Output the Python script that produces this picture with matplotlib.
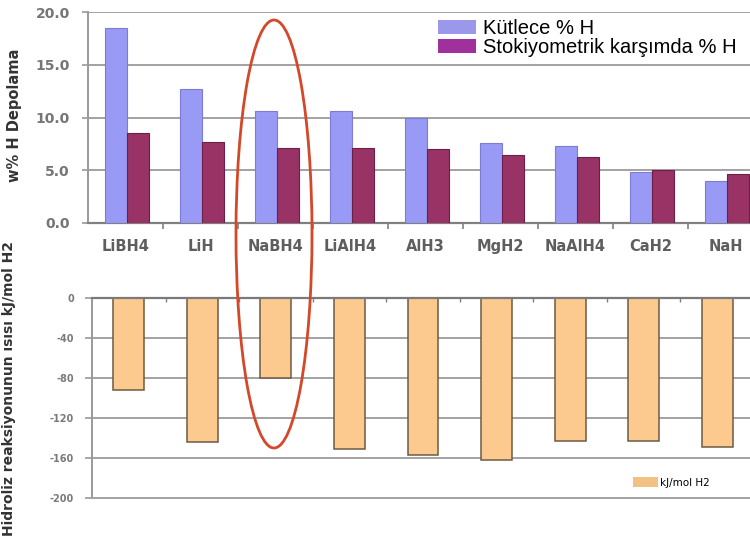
import numpy as np
import matplotlib
matplotlib.use("Agg")
import matplotlib.pyplot as plt
from matplotlib.patches import Patch, Ellipse
from matplotlib.ticker import FixedLocator, FormatStrFormatter

plt.rcParams["axes.unicode_minus"] = False

# Hydrides compared
compounds = ["LiBH4", "LiH", "NaBH4", "LiAlH4", "AlH3", "MgH2", "NaAlH4", "CaH2", "NaH"]

# Hydrogen storage, wt% H
kutlece_h = [18.5, 12.7, 10.6, 10.6, 10.0, 7.6, 7.3, 4.8, 4.0]
stokiyometrik_h = [8.5, 7.7, 7.1, 7.1, 7.0, 6.4, 6.3, 5.0, 4.6]

# Heat of hydrolysis, kJ/mol H2
hidroliz_isisi = [-92, -144, -80, -151, -157, -162, -143, -143, -149]

top_yticks = [0, 5, 10, 15, 20]
bottom_yticks = [-200, -160, -120, -80, -40, 0]

W, H = 750, 544
fig = plt.figure(figsize=(W / 100, H / 100), dpi=100)
fig.patch.set_facecolor("white")


def rect(left, top, right, bottom):
    return [left / W, 1 - bottom / H, (right - left) / W, (bottom - top) / H]


grid_c = "#a2a2a2"
tick_font = dict(family="DejaVu Sans", weight="bold")

# ---- upper panel: storage capacity ----
ax1 = fig.add_axes(rect(88, 12, 763, 223))
x = np.arange(len(compounds))
bw = 0.29
ax1.bar(x - bw / 2 + 0.02, kutlece_h, bw, color="#9999f6", edgecolor="#7c7cd8",
        linewidth=0.8, zorder=3)
ax1.bar(x + bw / 2 + 0.02, stokiyometrik_h, bw, color="#993366", edgecolor="#6e1f48",
        linewidth=0.8, zorder=3)
ax1.set_xlim(-0.5, len(compounds) - 0.5)
ax1.set_ylim(0, 20)
ax1.set_yticks(top_yticks)
ax1.yaxis.set_major_formatter(FormatStrFormatter("%.1f"))
ax1.yaxis.grid(True, color=grid_c, linewidth=1.4, zorder=0)
ax1.set_axisbelow(True)
for s in ("top", "right"):
    ax1.spines[s].set_visible(False)
ax1.spines["left"].set_color("#9a9a9a")
ax1.spines["left"].set_linewidth(1.4)
ax1.spines["bottom"].set_color("#808080")
ax1.spines["bottom"].set_linewidth(1.6)
ax1.set_xticks(x)
ax1.set_xticklabels(compounds, fontsize=10.5, color="#5e5e5e", **tick_font)
ax1.xaxis.set_minor_locator(FixedLocator(x[:-1] + 0.5))
ax1.tick_params(axis="x", which="major", length=0, pad=11.5)
ax1.tick_params(axis="x", which="minor", length=4, width=1.2, color="#808080", direction="out")
ax1.tick_params(axis="y", length=4, width=1.2, color="#9a9a9a", pad=9)
for lab in ax1.get_yticklabels():
    lab.set_fontsize(10)
    lab.set_color("#767676")
    lab.set_fontfamily("DejaVu Sans")
    lab.set_fontweight("bold")

fig.text(15 / W, 1 - 115 / H, "w% H Depolama", rotation=90, ha="center", va="center",
         fontsize=10.5, color="#333333", **tick_font)

fig.legend(handles=[Patch(facecolor="#9b98ec"), Patch(facecolor="#a0309c")],
           labels=["Kütlece % H", "Stokiyometrik karşımda % H"],
           loc="upper left", bbox_to_anchor=(438 / W, 1 - 19 / H),
           frameon=False, prop=dict(family="Liberation Sans", size=14.5),
           handlelength=1.9, handleheight=0.7, handletextpad=0.35,
           labelspacing=0.0, borderpad=0, borderaxespad=0)

# ---- lower panel: hydrolysis heat ----
ax2 = fig.add_axes(rect(92, 298, 754, 498))
ax2.bar(x, hidroliz_isisi, 0.42, color="#fcc98f", edgecolor="#6e5a44", linewidth=1.1, zorder=3)
ax2.set_xlim(-0.5, len(compounds) - 0.5)
ax2.set_ylim(-200, 0)
ax2.set_yticks(bottom_yticks)
ax2.yaxis.grid(True, color=grid_c, linewidth=1.4, zorder=0)
ax2.set_axisbelow(True)
ax2.spines["right"].set_visible(False)
ax2.spines["top"].set_color("#7a7a7a")
ax2.spines["top"].set_linewidth(1.6)
ax2.spines["top"].set_zorder(4)
ax2.spines["bottom"].set_color(grid_c)
ax2.spines["bottom"].set_linewidth(1.4)
ax2.spines["left"].set_color("#9a9a9a")
ax2.spines["left"].set_linewidth(1.4)
ax2.xaxis.set_ticks_position("top")
ax2.set_xticks(x[:-1] + 0.5)
ax2.set_xticklabels([])
ax2.tick_params(axis="x", length=3, width=1, color="#808080", direction="in")
ax2.tick_params(axis="y", length=5, width=1.2, color="#9a9a9a", pad=8)
for lab in ax2.get_yticklabels():
    lab.set_fontsize(7)
    lab.set_color("#7a7a7a")
    lab.set_fontfamily("DejaVu Sans")
    lab.set_fontweight("bold")

fig.text(9 / W, 1 - 389 / H, "Hidroliz reaksiyonunun ısısı kJ/mol H2", rotation=90,
         ha="center", va="center", fontsize=10, color="#333333", **tick_font)

fig.legend(handles=[Patch(facecolor="#f2c184")], labels=["kJ/mol H2"],
           loc="upper left", bbox_to_anchor=(633 / W, 1 - 477 / H),
           frameon=False, prop=dict(family="DejaVu Sans", size=7.5),
           handlelength=2.4, handleheight=1.1, handletextpad=0.2,
           borderpad=0, borderaxespad=0)

# highlight around NaBH4
fig.add_artist(Ellipse((274 / W, 1 - 234 / H), 76 / W, 428 / H, transform=fig.transFigure,
                       fill=False, edgecolor="#d4482a", linewidth=2.0, zorder=10))

fig.savefig("out.png", dpi=100)
